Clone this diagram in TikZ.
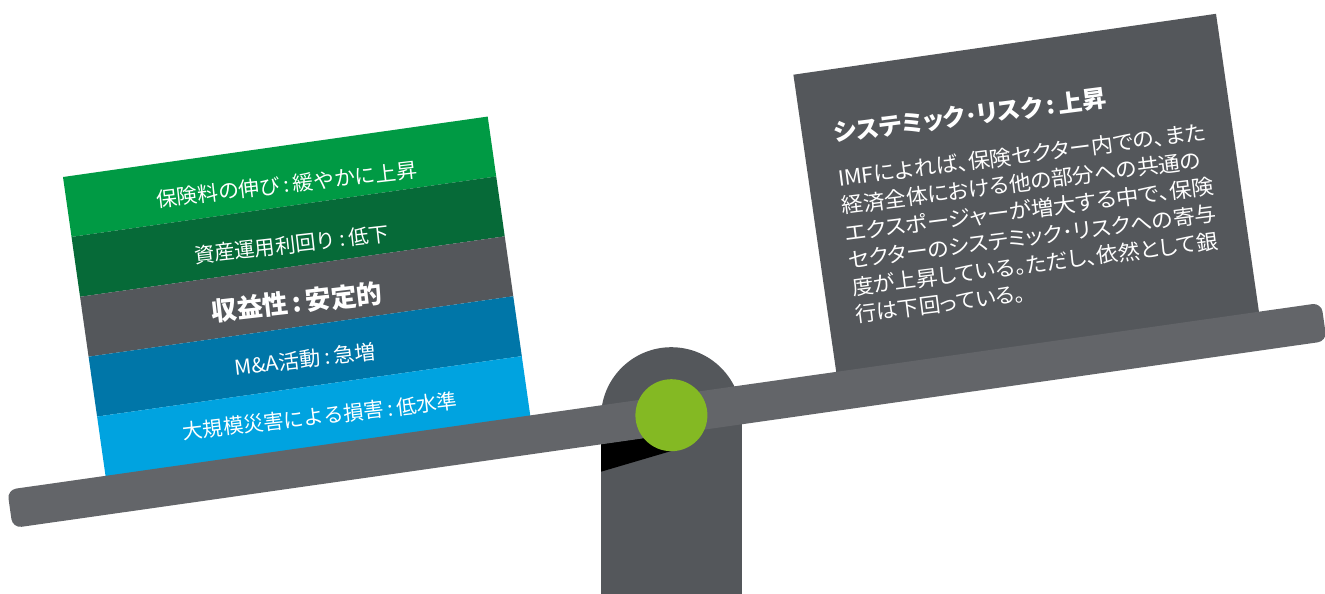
\documentclass[tikz,border=0pt]{standalone}
\usepackage{fontspec}
\usepackage{graphicx}
\newfontfamily\jp{Noto Sans CJK JP}
\newfontfamily\jpp[RawFeature=+palt]{Noto Sans CJK JP}
\newcommand\fitw[2]{\resizebox{#1pt}{\height}{#2}}
\definecolor{bandGreen}{HTML}{009A44}
\definecolor{bandDark}{HTML}{066A38}
\definecolor{bandGray}{HTML}{54575B}
\definecolor{bandBlue}{HTML}{0076A8}
\definecolor{bandSky}{HTML}{00A3E0}
\definecolor{beamGray}{HTML}{636569}
\definecolor{pivotGreen}{HTML}{84B923}
\begin{document}
\begin{tikzpicture}[x=1pt,y=-1pt,
  lbl/.style={text=white,font=\jp\fontsize{20.5}{24}\selectfont,inner sep=0pt,rotate=6.5},
  lblbig/.style={text=white,font=\jp\bfseries\fontsize{26}{30}\selectfont,inner sep=0pt,rotate=6.5},
  body/.style={text=white,font=\jpp\fontsize{21}{27}\selectfont,inner sep=0pt,anchor=base west,rotate=7.3},
  ttl/.style={text=white,font=\jpp\bfseries\fontsize{24}{28}\selectfont,inner sep=0pt,anchor=west,rotate=7.3}]
\useasboundingbox (0,0) rectangle (1325,594);
% left stack
\begin{scope}[shift={(63,177)},rotate=8.1]
  \fill[bandGreen] (0,0) rectangle (429,60.5);
  \fill[bandDark] (0,60.5) rectangle (429,121);
  \fill[bandGray] (0,121) rectangle (429,181.5);
  \fill[bandBlue] (0,181.5) rectangle (429,242);
  \fill[bandSky] (0,242) rectangle (429,312);
\end{scope}
\node[lbl] (s1) at (286.7,184.5) {\fitw{262.7}{保険料の伸び\,:\,緩やかに上昇}};
\node[lbl] (s2) at (291.5,244.5) {\fitw{195.5}{資産運用利回り\,:\,低下}};
\node[lblbig] (s3) at (297,302.2) {\fitw{172}{収益性\,:\,安定的}};
\node[lbl] (s4) at (305,359.4) {\fitw{142}{M\&A活動\,:\,急増}};
\node[lbl] (s5) at (320,416.2) {\fitw{276.2}{大規模災害による損害\,:\,低水準}};
% right box
\begin{scope}[shift={(793.4,74.7)},rotate=8.2]
  \fill[bandGray] (0,0) rectangle (427,312);
\end{scope}
\node[ttl] (t0) at (834,133) {\fitw{275}{システミック･リスク\,:\,上昇}};
\node[body] (t1) at (838.8,186.6) {\fitw{370.6}{IMFによれば、保険セクター内での、また}};
\node[body] (t2) at (842.3,213.8) {\fitw{362.3}{経済全体における他の部分への共通の}};
\node[body] (t3) at (845.8,241.0) {\fitw{372}{エクスポージャーが増大する中で、保険}};
\node[body] (t4) at (849.3,268.2) {\fitw{371}{セクターのシステミック･リスクへの寄与}};
\node[body] (t5) at (852.8,295.4) {\fitw{369}{度が上昇している。ただし、依然として銀}};
\node[body] (t6) at (856.3,322.6) {\fitw{171}{行は下回っている。}};
% post
\fill[bandGray] (601,417.5) rectangle (741.5,594);
\fill[bandGray] (671.3,417.5) circle (70.3pt);
\fill[black] (601,444) -- (601,471.7) -- (671.3,451) -- (671.3,434) -- cycle;
% beam
\begin{scope}[shift={(671.5,414.8)},rotate=8.1]
  \fill[beamGray,rounded corners=9pt] (-668.2,-19.3) rectangle (659.1,19.3);
\end{scope}
% pivot
\fill[pivotGreen] (671.4,415.2) circle (36pt);
\end{tikzpicture}
\end{document}
